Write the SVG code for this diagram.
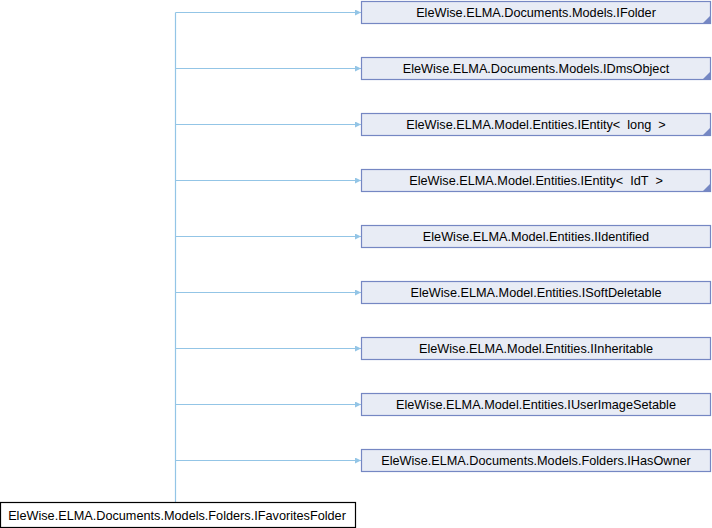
<svg xmlns="http://www.w3.org/2000/svg" width="712" height="528" viewBox="0 0 712 528">
<defs>
<style>
.n rect{fill:#E8ECF5;stroke:#7587C3;stroke-width:1.2}
.r rect{fill:#FFFFFF;stroke:#000000;stroke-width:1.2}
.n text,.r text{font-family:"Liberation Sans",Arial,sans-serif;font-size:12.7px;text-anchor:middle;fill:#000}
.c path{fill:none;stroke:#93C5E6;stroke-width:1.2}
.t{fill:#7587C3}
</style>
<marker id="a" markerWidth="7" markerHeight="6" refX="6" refY="3" orient="auto" markerUnits="userSpaceOnUse">
<path d="M0,0 L6,3 L0,6 Z" fill="#93C5E6"/>
</marker>
</defs>
<rect width="712" height="528" fill="#fff"/>
<g id="connectors" class="c">
<path d="M175.5,502 V12.5"/>
<path d="M175.5,12.5 H361" marker-end="url(#a)"/>
<path d="M175.5,68.5 H361" marker-end="url(#a)"/>
<path d="M175.5,124.5 H361" marker-end="url(#a)"/>
<path d="M175.5,180.5 H361" marker-end="url(#a)"/>
<path d="M175.5,236.5 H361" marker-end="url(#a)"/>
<path d="M175.5,292.5 H361" marker-end="url(#a)"/>
<path d="M175.5,348.5 H361" marker-end="url(#a)"/>
<path d="M175.5,404.5 H361" marker-end="url(#a)"/>
<path d="M175.5,460.5 H361" marker-end="url(#a)"/>
</g>
<g id="n0" class="r"><rect x="0.5" y="502.5" width="355" height="25"/><text x="177" y="519.5">EleWise.ELMA.Documents.Models.Folders.IFavoritesFolder</text></g>
<g id="n1" class="n"><rect x="361.5" y="1.5" width="349" height="22"/><text x="536" y="17">EleWise.ELMA.Documents.Models.IFolder</text><path class="t" d="M711,15 V24 H702 Z"/></g>
<g id="n2" class="n"><rect x="361.5" y="57.5" width="349" height="22"/><text x="536" y="73">EleWise.ELMA.Documents.Models.IDmsObject</text><path class="t" d="M711,71 V80 H702 Z"/></g>
<g id="n3" class="n"><rect x="361.5" y="113.5" width="349" height="22"/><text x="536" y="129" xml:space="preserve">EleWise.ELMA.Model.Entities.IEntity&lt;  long  &gt;</text><path class="t" d="M711,127 V136 H702 Z"/></g>
<g id="n4" class="n"><rect x="361.5" y="169.5" width="349" height="22"/><text x="536" y="185" xml:space="preserve">EleWise.ELMA.Model.Entities.IEntity&lt;  IdT  &gt;</text><path class="t" d="M711,183 V192 H702 Z"/></g>
<g id="n5" class="n"><rect x="361.5" y="225.5" width="349" height="22"/><text x="536" y="241">EleWise.ELMA.Model.Entities.IIdentified</text></g>
<g id="n6" class="n"><rect x="361.5" y="281.5" width="349" height="22"/><text x="536" y="297">EleWise.ELMA.Model.Entities.ISoftDeletable</text></g>
<g id="n7" class="n"><rect x="361.5" y="337.5" width="349" height="22"/><text x="536" y="353">EleWise.ELMA.Model.Entities.IInheritable</text></g>
<g id="n8" class="n"><rect x="361.5" y="393.5" width="349" height="22"/><text x="536" y="409">EleWise.ELMA.Model.Entities.IUserImageSetable</text></g>
<g id="n9" class="n"><rect x="361.5" y="449.5" width="349" height="22"/><text x="536" y="465">EleWise.ELMA.Documents.Models.Folders.IHasOwner</text></g>
</svg>
